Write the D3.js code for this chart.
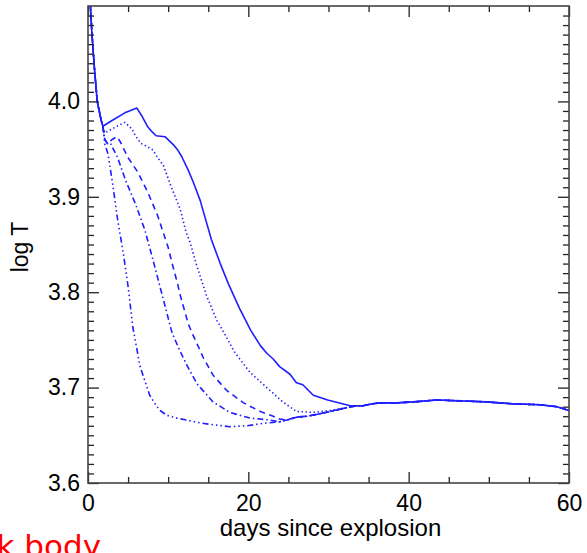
<!DOCTYPE html>
<html>
<head>
<meta charset="utf-8">
<script src="https://cdn.jsdelivr.net/npm/d3@7"></script>
<style>
  html, body { margin: 0; padding: 0; background: #fff; overflow: hidden; }
  svg { display: block; }
  .tick text { font-family: "Liberation Sans", Arial, sans-serif; fill: #000; }
</style>
</head>
<body>
<div id="chart"></div>
<script>
// Shared early cooling (all models): [day, log T]
const earlyPhase = [[0.2, 4.115], [0.5, 4.07], [0.8, 4.035], [1.15, 4.0], [1.4, 3.99], [1.65, 3.98], [1.85, 3.974]];

const solidOwn = [[3.0, 3.980], [4.6, 3.988], [6.1, 3.993], [6.7, 3.985], [7.4, 3.974], [8.0, 3.968], [8.5, 3.964],
  [9.6, 3.963], [10.6, 3.955], [11.2, 3.949], [11.7, 3.942], [12.5, 3.928], [13.1, 3.916], [14.0, 3.896],
  [15.4, 3.855], [16.5, 3.830], [17.5, 3.809], [18.9, 3.783], [20.3, 3.760], [21.5, 3.744], [22.3, 3.736],
  [23.1, 3.730], [23.9, 3.722], [25.2, 3.714], [26.0, 3.705], [26.8, 3.703], [28.1, 3.692], [29.9, 3.687], [32.7, 3.681]];

const dottedOwn = [[2.1, 3.967], [3.4, 3.973], [4.6, 3.978], [5.5, 3.971], [5.9, 3.964], [6.6, 3.956], [7.5, 3.952],
  [8.1, 3.949], [8.7, 3.941], [9.4, 3.933], [10.4, 3.910], [11.5, 3.887], [12.2, 3.864], [12.7, 3.853],
  [13.6, 3.827], [14.8, 3.796], [16.1, 3.770], [16.8, 3.760], [18.3, 3.737], [20.2, 3.716], [22.3, 3.700],
  [24.3, 3.685], [26.0, 3.675], [28.1, 3.674], [30.2, 3.676], [32.3, 3.679]];

const dashedOwn = [[2.1, 3.960], [2.4, 3.956], [3.0, 3.960], [3.6, 3.963], [4.0, 3.958], [5.0, 3.941], [6.2, 3.926],
  [7.5, 3.904], [8.7, 3.880], [10.0, 3.847], [10.5, 3.830], [11.2, 3.808], [11.5, 3.797], [12.5, 3.767],
  [13.1, 3.755], [13.6, 3.746], [14.4, 3.731], [15.6, 3.713], [17.3, 3.697], [19.4, 3.684], [21.5, 3.675],
  [23.1, 3.670], [23.9, 3.667]];

const dashDotOwn = [[2.1, 3.960], [2.5, 3.955], [2.8, 3.956], [3.7, 3.941], [4.7, 3.917], [5.9, 3.893], [7.1, 3.865],
  [8.1, 3.834], [9.1, 3.802], [10.0, 3.773], [10.5, 3.757], [11.5, 3.738], [12.3, 3.724], [13.6, 3.704],
  [15.6, 3.685], [17.7, 3.674], [20.2, 3.668], [22.7, 3.666], [23.9, 3.664]];

const dashDot3Own = [[2.1, 3.955], [2.5, 3.945], [3.1, 3.912], [3.7, 3.876], [4.4, 3.841], [5.0, 3.806], [5.6, 3.763],
  [6.5, 3.722], [7.7, 3.692], [8.5, 3.681], [9.0, 3.676], [9.8, 3.671], [11.1, 3.668], [14.0, 3.663],
  [15.6, 3.661], [17.7, 3.659], [19.8, 3.660], [22.3, 3.663], [23.9, 3.664]];

// where the three fastest models run together before the plateau
const mergedTail = [[24.8, 3.666], [26.0, 3.669], [27.3, 3.670], [28.6, 3.672], [30.2, 3.675], [32.3, 3.679]];

// common plateau of all models
const plateau = [[33.5, 3.681], [34.3, 3.681], [35.5, 3.683], [36.4, 3.684], [38.5, 3.684], [40.6, 3.685],
  [43.5, 3.687], [46.8, 3.686], [49.7, 3.685], [53.0, 3.683], [56.4, 3.682], [58.5, 3.680], [60, 3.676]];

const xMajorTicks = [0, 20, 40, 60];
const yMajorTicks = [3.6, 3.7, 3.8, 3.9, 4.0];

const series = [
  { name: "solid", dash: null, points: earlyPhase.concat(solidOwn, plateau) },
  { name: "dotted", dash: "1.4,2.6", points: earlyPhase.concat(dottedOwn, plateau) },
  { name: "dashed", dash: "6,4.5", points: earlyPhase.concat(dashedOwn, mergedTail, plateau) },
  { name: "dashdot", dash: "6,3,1.5,3", points: earlyPhase.concat(dashDotOwn, mergedTail, plateau) },
  { name: "dashdotdotdot", dash: "6,3,1.5,3,1.5,3,1.5,3", points: earlyPhase.concat(dashDot3Own, mergedTail, plateau) }
];

const W = 587, H = 553;
const margin = { top: 6, right: 18, bottom: 70, left: 88 };
const width = W - margin.left - margin.right;
const height = H - margin.top - margin.bottom;

const svg = d3.select("#chart").append("svg")
  .attr("width", W)
  .attr("height", H);

const g = svg.append("g")
  .attr("transform", `translate(${margin.left},${margin.top})`);

const x = d3.scaleLinear().domain([0, 60]).range([0, width]);
const y = d3.scaleLinear().domain([3.6, 4.1]).range([height, 0]);

const xMinor = d3.range(0, 60.001, 5).filter(v => v % 20 !== 0);
const yMinor = d3.range(360, 411, 1).map(v => v / 100).filter(v => Math.round(v * 100) % 10 !== 0);

// clip for the curves
svg.append("defs").append("clipPath").attr("id", "plotclip")
  .append("rect").attr("width", width).attr("height", height);

// Curves
const line = d3.line().x(d => x(d[0])).y(d => y(d[1]));
g.append("g").attr("clip-path", "url(#plotclip)")
  .selectAll("path")
  .data(series)
  .enter()
  .append("path")
    .attr("d", d => line(d.points))
    .attr("fill", "none")
    .attr("stroke", "#1f1fff")
    .attr("stroke-width", 1.6)
    .attr("stroke-dasharray", d => d.dash)
    .attr("stroke-linejoin", "round");

// Axes: ticks on all four sides, pointing inward
function styleAxis(sel) {
  sel.selectAll(".tick line").attr("stroke", "#222").attr("stroke-width", 1.3);
  sel.select(".domain").remove();
}

g.append("g").attr("transform", `translate(0,${height})`)
  .call(d3.axisBottom(x).tickValues(xMinor).tickSize(-6).tickFormat(""))
  .call(styleAxis);
g.append("g").attr("transform", `translate(0,${height})`)
  .call(d3.axisBottom(x).tickValues(xMajorTicks).tickSize(-11).tickPadding(18).tickFormat(d3.format("d")))
  .call(styleAxis)
  .selectAll("text").attr("font-size", 23).attr("dy", "0.45em");

g.append("g")
  .call(d3.axisTop(x).tickValues(xMinor).tickSize(-6).tickFormat(""))
  .call(styleAxis);
g.append("g")
  .call(d3.axisTop(x).tickValues(xMajorTicks).tickSize(-11).tickFormat(""))
  .call(styleAxis);

g.append("g")
  .call(d3.axisLeft(y).tickValues(yMinor).tickSize(-6).tickFormat(""))
  .call(styleAxis);
g.append("g")
  .call(d3.axisLeft(y).tickValues(yMajorTicks).tickSize(-11).tickPadding(8).tickFormat(d3.format(".1f")))
  .call(styleAxis)
  .selectAll("text").attr("font-size", 23);

g.append("g").attr("transform", `translate(${width},0)`)
  .call(d3.axisRight(y).tickValues(yMinor).tickSize(-6).tickFormat(""))
  .call(styleAxis);
g.append("g").attr("transform", `translate(${width},0)`)
  .call(d3.axisRight(y).tickValues(yMajorTicks).tickSize(-11).tickFormat(""))
  .call(styleAxis);

// Frame
g.append("rect")
  .attr("width", width)
  .attr("height", height)
  .attr("fill", "none")
  .attr("stroke", "#444")
  .attr("stroke-width", 1.6);

// Axis labels
g.append("text")
  .attr("x", width / 2 + 2)
  .attr("y", height + 53)
  .attr("text-anchor", "middle")
  .attr("font-family", "Liberation Sans, Arial, sans-serif")
  .attr("font-size", 24)
  .text("days since explosion");

svg.append("text")
  .attr("transform", "translate(28,247) rotate(-90)")
  .attr("text-anchor", "middle")
  .attr("font-family", "Liberation Sans, Arial, sans-serif")
  .attr("font-size", 23)
  .text("log T");

// red caption cut off at the page edge, as in the original
svg.append("text")
  .attr("x", 101)
  .attr("y", 557)
  .attr("text-anchor", "end")
  .attr("font-family", "DejaVu Sans, sans-serif")
  .attr("font-size", 31)
  .attr("fill", "#ff0000")
  .text("black body");
</script>
</body>
</html>
